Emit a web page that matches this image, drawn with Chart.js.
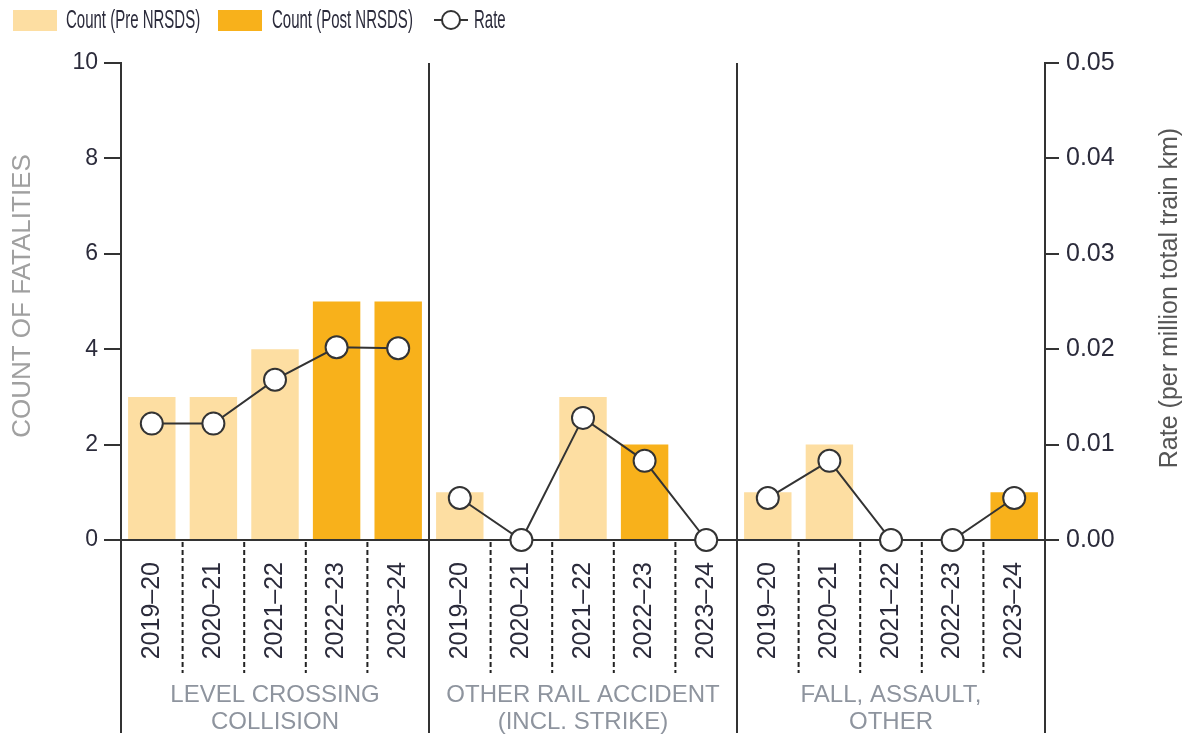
<!DOCTYPE html>
<html lang="en">
<head>
<meta charset="UTF-8">
<title>Fatalities by type</title>
<script src="https://cdn.jsdelivr.net/npm/chart.js"></script>
<style>
    body { margin: 0; background: #fff; }
    #wrap { position: relative; width: 1183px; height: 738px; }
    #legenda {
        position: absolute; left: 0; top: 0; width: 1183px; height: 40px;
        font-family: 'Liberation Sans', Arial, sans-serif;
        font-size: 25px; color: #2b2b3b;
    }
    #legenda > * { position: absolute; }
    .caixa { width: 44px; height: 21px; top: 10px; }
    .texto { top: 4px; line-height: 30px; white-space: nowrap; transform: scaleX(0.6); transform-origin: left center; }
</style>
</head>
<body>
<div id="wrap">
    <div id="legenda">
        <span class="caixa" style="left:13px;background:#fddea2"></span>
        <span class="texto" style="left:66px">Count (Pre NRSDS)</span>
        <span class="caixa" style="left:218px;background:#f8b11b"></span>
        <span class="texto" style="left:272px">Count (Post NRSDS)</span>
        <svg width="36" height="24" style="left:433px;top:8px">
            <line x1="1" y1="12" x2="35" y2="12" stroke="#333" stroke-width="2"/>
            <circle cx="18" cy="12" r="9" fill="#fff" stroke="#333" stroke-width="2"/>
        </svg>
        <span class="texto" style="left:474px">Rate</span>
    </div>
    <canvas id="grafico" width="1183" height="738"></canvas>
</div>

<script>
    // dados
    const anos = ['2019–20', '2020–21', '2021–22', '2022–23', '2023–24'];
    const grupos = [
        ['LEVEL CROSSING', 'COLLISION'],
        ['OTHER RAIL ACCIDENT', '(INCL. STRIKE)'],
        ['FALL, ASSAULT,', 'OTHER']
    ];
    const contagemPre = [3, 3, 4, null, null, 1, 0, 3, null, null, 1, 2, 0, null, null];
    const contagemPos = [null, null, null, 5, 5, null, null, null, 2, 0, null, null, null, 0, 1];
    const taxa = [0.0122, 0.0122, 0.0168, 0.0202, 0.0201,
                  0.0044, 0, 0.0128, 0.0083, 0,
                  0.0044, 0.0083, 0, 0, 0.0044];

    const rotulos = [];
    grupos.forEach(() => anos.forEach(a => rotulos.push(a)));

    const fonte = "'Liberation Sans', Arial, sans-serif";
    const corEixo = '#333';

    // linhas de separação, títulos dos eixos e nomes dos grupos
    const extras = {
        id: 'extras',
        beforeDatasetsDraw(chart) {
            const { ctx, chartArea } = chart;
            const x = chart.scales.x;
            const fundo = 733;
            const n = anos.length;
            ctx.save();
            ctx.strokeStyle = corEixo;
            ctx.lineWidth = 2;
            // separadores dos grupos
            for (let g = 1; g < grupos.length; g++) {
                const px = (x.getPixelForValue(g * n - 1) + x.getPixelForValue(g * n)) / 2;
                ctx.beginPath();
                ctx.moveTo(px, chartArea.top);
                ctx.lineTo(px, fundo);
                ctx.stroke();
            }
            // prolongamento dos eixos
            [chartArea.left, chartArea.right].forEach(px => {
                ctx.beginPath();
                ctx.moveTo(px, chartArea.bottom);
                ctx.lineTo(px, fundo);
                ctx.stroke();
            });
            // tracejado entre os anos
            ctx.setLineDash([5, 3]);
            ctx.strokeStyle = '#222';
            for (let i = 1; i < rotulos.length; i++) {
                if (i % n === 0) continue;
                const px = (x.getPixelForValue(i - 1) + x.getPixelForValue(i)) / 2;
                ctx.beginPath();
                ctx.moveTo(px, chartArea.bottom + 2);
                ctx.lineTo(px, 673);
                ctx.stroke();
            }
            ctx.setLineDash([]);
            // nomes dos grupos
            ctx.fillStyle = '#8e949e';
            ctx.font = '24px ' + fonte;
            ctx.textAlign = 'center';
            ctx.textBaseline = 'middle';
            grupos.forEach((linhas, g) => {
                const cx = (x.getPixelForValue(g * n) + x.getPixelForValue(g * n + n - 1)) / 2;
                linhas.forEach((t, k) => ctx.fillText(t, cx, 695 + k * 27));
            });
            // títulos dos eixos
            ctx.font = '26px ' + fonte;
            ctx.fillStyle = '#a0a0a0';
            ctx.translate(23, 296);
            ctx.rotate(-Math.PI / 2);
            ctx.fillText('COUNT OF FATALITIES', 0, 0);
            ctx.rotate(Math.PI / 2);
            ctx.translate(-23, -296);
            ctx.font = '25px ' + fonte;
            ctx.fillStyle = '#555';
            ctx.translate(1170, 298);
            ctx.rotate(-Math.PI / 2);
            ctx.fillText('Rate (per million total train km)', 0, 0);
            ctx.restore();
        }
    };

    const ctx = document.getElementById('grafico').getContext('2d');
    const grafico = new Chart(ctx, {
        type: 'bar',
        data: {
            labels: rotulos,
            datasets: [
                {
                    type: 'line',
                    label: 'Rate',
                    data: taxa,
                    yAxisID: 'y2',
                    borderColor: '#333',
                    borderWidth: 2,
                    pointRadius: 11,
                    pointBorderWidth: 2,
                    pointBackgroundColor: '#fff',
                    pointBorderColor: '#333',
                    clip: false,
                    order: 0,
                    segment: {
                        borderColor: c => (c.p1DataIndex % anos.length === 0 ? 'transparent' : '#333')
                    }
                },
                {
                    label: 'Count (Pre NRSDS)',
                    data: contagemPre,
                    backgroundColor: '#fddea2',
                    yAxisID: 'y',
                    order: 1
                },
                {
                    label: 'Count (Post NRSDS)',
                    data: contagemPos,
                    backgroundColor: '#f8b11b',
                    yAxisID: 'y',
                    order: 1
                }
            ]
        },
        options: {
            responsive: false,
            animation: false,
            barPercentage: 0.77,
            categoryPercentage: 1,
            layout: { padding: { top: 63, left: 0, right: 0, bottom: 0 } },
            plugins: {
                legend: { display: false },
                tooltip: { enabled: false }
            },
            scales: {
                x: {
                    stacked: true,
                    grid: { display: false },
                    border: { display: true, color: corEixo, width: 2 },
                    ticks: {
                        minRotation: 90, maxRotation: 90, padding: 14,
                        color: '#2b2b3b', font: { family: fonte, size: 25 }
                    },
                    afterFit: s => { s.height = 198; }
                },
                y: {
                    position: 'left',
                    stacked: true,
                    min: 0, max: 10,
                    grid: { drawOnChartArea: false, drawTicks: true, tickLength: 17, color: corEixo, lineWidth: 2 },
                    border: { display: true, color: corEixo, width: 2 },
                    ticks: {
                        stepSize: 2, padding: 6,
                        color: '#2b2b3b', font: { family: fonte, size: 23 }
                    },
                    afterFit: s => { s.width = 121; }
                },
                y2: {
                    position: 'right',
                    min: 0, max: 0.05,
                    grid: { drawOnChartArea: false, drawTicks: true, tickLength: 14, color: corEixo, lineWidth: 2 },
                    border: { display: true, color: corEixo, width: 2 },
                    ticks: {
                        stepSize: 0.01, padding: 7,
                        color: '#2b2b3b', font: { family: fonte, size: 25 },
                        callback: v => v.toFixed(2)
                    },
                    afterFit: s => { s.width = 138; }
                }
            }
        },
        plugins: [extras]
    });
</script>
</body>
</html>
